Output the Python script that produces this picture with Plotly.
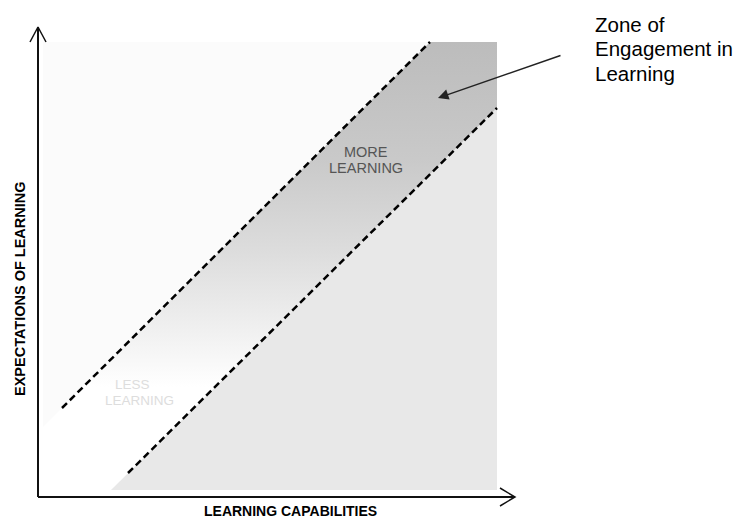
import plotly.graph_objects as go

# ---- Conceptual diagram geometry (x: learning capabilities, y: expectations) ----
axis_x_end = 477
axis_y_end = 470
x_arrow_barb_x = [462, 477, 462]
x_arrow_barb_y = [9, 0, -9]
y_arrow_barb_x = [-8, 0, 8]
y_arrow_barb_y = [455, 470, 455]

upper_line_x = [24, 392]
upper_line_y = [89, 455]
lower_line_x = [90, 459]
lower_line_y = [24, 389]

band_x = [24, 392, 459, 459, 90]
band_y = [89, 455, 455, 389, 24]

below_x = [73, 459, 459]
below_y = [7, 389, 7]

above_x = [5, 392, 5]
above_y = [70, 455, 455]

zone_arrow_tip = (400, 399)
zone_arrow_tail = (524, 442)

zone_lines = ["Zone of", "Engagement in", "Learning"]
zone_line_y = [473, 448.5, 424]
zone_x = 555

more_lines = ["MORE", "LEARNING"]
more_y = [345, 329]
more_x = 328

less_lines = ["LESS", "LEARNING"]
less_x = [94, 101]
less_y = [113, 97]

x_title = "LEARNING CAPABILITIES"
y_title = "EXPECTATIONS OF LEARNING"

FONT = "Liberation Sans, Arial, sans-serif"

fig = go.Figure()

# faint region above the zone
fig.add_trace(go.Scatter(x=above_x, y=above_y, fill="toself", mode="none",
                         fillcolor="#fbfbfb", hoverinfo="skip"))
# region below the zone
fig.add_trace(go.Scatter(x=below_x, y=below_y, fill="toself", mode="none",
                         fillcolor="#e8e8e8", hoverinfo="skip"))
# zone band with gradient
fig.add_trace(go.Scatter(
    x=band_x, y=band_y, fill="toself", mode="none", hoverinfo="skip",
    fillgradient=dict(type="vertical", start=110, stop=455,
                      colorscale=[[0, "#ffffff"], [0.165, "#f0f0f0"],
                                  [0.4, "#dcdcdc"], [0.66, "#c9c9c9"],
                                  [1, "#bcbcbc"]])))

# dashed boundary lines
for lx, ly in [(upper_line_x, upper_line_y), (lower_line_x, lower_line_y)]:
    fig.add_trace(go.Scatter(x=lx, y=ly, mode="lines", hoverinfo="skip",
                             line=dict(color="#000000", width=2.5, dash="7px,4px")))

# axes with open arrowheads
fig.add_trace(go.Scatter(x=[0, 0], y=[0, axis_y_end], mode="lines",
                         line=dict(color="#111111", width=2), hoverinfo="skip"))
fig.add_trace(go.Scatter(x=[0, axis_x_end], y=[0, 0], mode="lines",
                         line=dict(color="#111111", width=2), hoverinfo="skip"))
fig.add_trace(go.Scatter(x=x_arrow_barb_x, y=x_arrow_barb_y, mode="lines",
                         line=dict(color="#111111", width=1.5), hoverinfo="skip"))
fig.add_trace(go.Scatter(x=y_arrow_barb_x, y=y_arrow_barb_y, mode="lines",
                         line=dict(color="#111111", width=1.5), hoverinfo="skip"))

annotations = []
annotations.append(dict(x=zone_arrow_tip[0], y=zone_arrow_tip[1],
                        ax=zone_arrow_tail[0], ay=zone_arrow_tail[1],
                        xref="x", yref="y", axref="x", ayref="y", text="",
                        showarrow=True, arrowhead=2, arrowsize=1.4,
                        arrowwidth=1.5, arrowcolor="#222222", standoff=0))
for t, yy in zip(zone_lines, zone_line_y):
    annotations.append(dict(x=zone_x, y=yy, xref="x", yref="y", text=t,
                            showarrow=False, xanchor="left", yanchor="middle",
                            font=dict(family=FONT, size=20.5, color="#000000")))
for t, yy in zip(more_lines, more_y):
    annotations.append(dict(x=more_x, y=yy, xref="x", yref="y", text=t,
                            showarrow=False, xanchor="center", yanchor="middle",
                            font=dict(family=FONT, size=14.5, color="#555555")))
for t, xx, yy in zip(less_lines, less_x, less_y):
    annotations.append(dict(x=xx, y=yy, xref="x", yref="y", text=t,
                            showarrow=False, xanchor="center", yanchor="middle",
                            font=dict(family=FONT, size=13.5, color="#dddddd")))
annotations.append(dict(x=252, y=-14, xref="x", yref="y", text=f"<b>{x_title}</b>",
                        showarrow=False, xanchor="center", yanchor="middle",
                        font=dict(family=FONT, size=14, color="#000000")))
annotations.append(dict(x=-18, y=208, xref="x", yref="y", text=f"<b>{y_title}</b>",
                        showarrow=False, xanchor="center", yanchor="middle",
                        textangle=-90,
                        font=dict(family=FONT, size=14.5, color="#000000")))

fig.update_layout(
    width=737, height=520,
    margin=dict(l=0, r=0, t=0, b=0),
    paper_bgcolor="white", plot_bgcolor="white",
    showlegend=False,
    xaxis=dict(range=[-38, 699], visible=False, fixedrange=True),
    yaxis=dict(range=[-23, 497], visible=False, fixedrange=True),
    annotations=annotations,
)

fig.write_html("out.html", config={"displayModeBar": False},
               post_script="document.body.style.margin='0';document.body.style.overflow='hidden';")
